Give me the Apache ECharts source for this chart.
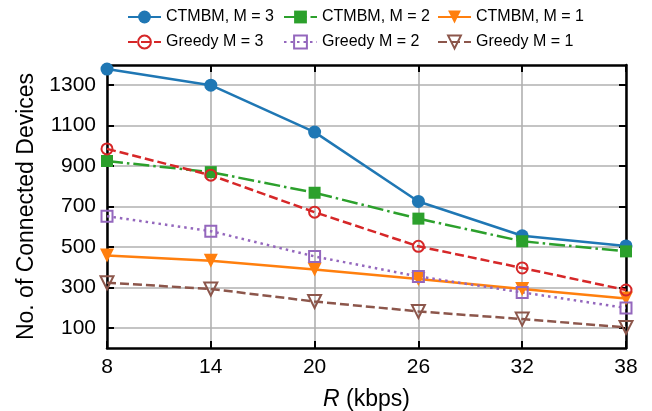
<!DOCTYPE html>
<html>
<head>
<meta charset="utf-8">
<script src="https://cdn.jsdelivr.net/npm/echarts@6/dist/echarts.min.js"></script>
<style>html,body{margin:0;padding:0;background:#fff}#c{width:652px;height:411px}</style>
</head>
<body>
<div id="c"></div>
<script>
const categories = ['8', '14', '20', '26', '32', '38'];
const yTicks = [100, 300, 500, 700, 900, 1100, 1300];
const ctmbm3 = [1380, 1300, 1068, 725, 555, 505];
const ctmbm2 = [925, 870, 768, 640, 528, 478];
const ctmbm1 = [458, 432, 388, 341, 292, 245];
const greedy3 = [985, 855, 672, 503, 396, 287];
const greedy2 = [652, 578, 453, 354, 275, 198];
const greedy1 = [323, 292, 230, 181, 143, 102];

const FONT = '"Liberation Sans", Arial, Helvetica, sans-serif';
const C = {blue:'#1f77b4', orange:'#ff7f0e', green:'#2ca02c', red:'#d62728', purple:'#9467bd', brown:'#8c564b'};
const LW = 2.5;
const dashed = [9, 4];
const dashdot = [16, 4, 2.5, 4];
const dotted = [2.5, 4];

function mkSeries(name, data, color, ltype, symbol, size, hollow, rot) {
  return {
    name, type: 'line', data, xAxisIndex: 0, yAxisIndex: 0,
    symbol, symbolSize: size, symbolRotate: rot || 0,
    showAllSymbol: true, clip: false,
    lineStyle: {color, width: LW, type: ltype},
    itemStyle: hollow ? {color: 'rgba(255,255,255,0)', borderColor: color, borderWidth: 2}
                      : {color, borderWidth: 0},
    emphasis: {disabled: true},
    z: 3
  };
}

const series = [
  mkSeries('CTMBM, M = 3', ctmbm3, C.blue, 'solid', 'circle', 13, false),
  mkSeries('CTMBM, M = 2', ctmbm2, C.green, dashdot, 'rect', 12, false),
  mkSeries('CTMBM, M = 1', ctmbm1, C.orange, 'solid', 'triangle', 14, false, 180),
  mkSeries('Greedy M = 3', greedy3, C.red, dashed, 'circle', 11, true),
  mkSeries('Greedy M = 2', greedy2, C.purple, dotted, 'rect', 11, true),
  mkSeries('Greedy M = 1', greedy1, C.brown, dashed, 'triangle', 13, true, 180)
];

const legendPos = [
  [127, 9], [283, 9], [437, 9],
  [127, 34], [283, 34], [437, 34]
];
const legends = series.map((s, i) => ({
  data: [s.name], left: legendPos[i][0], top: legendPos[i][1], padding: 0,
  itemWidth: 33, itemHeight: 16, selectedMode: false,
  textStyle: {fontFamily: FONT, fontSize: 16, color: '#000', lineHeight: 16}
}));

const frameLine = {show: true, onZero: false, lineStyle: {color: '#000', width: 2.5}};
const tickIn = {show: true, inside: true, length: 7, lineStyle: {color: '#000', width: 2}};
const grayGrid = {show: true, lineStyle: {color: '#b0b0b0', width: 1.6}};

const option = {
  animation: false,
  backgroundColor: '#fff',
  legend: legends,
  grid: {left: 107, right: 26, top: 65, bottom: 63, containLabel: false, outerBoundsMode: 'none'},
  xAxis: [
    {type: 'category', data: categories, boundaryGap: false, position: 'bottom',
     axisLine: frameLine, axisTick: Object.assign({interval: 0}, tickIn), splitLine: grayGrid,
     axisLabel: {interval: 0, margin: 9, fontFamily: FONT, fontSize: 21, color: '#000'},
     name: '{i|R} (kbps)', nameLocation: 'middle', nameGap: 40,
     nameTextStyle: {fontFamily: FONT, fontSize: 23, color: '#000',
       rich: {i: {fontFamily: FONT, fontSize: 23, fontStyle: 'italic', color: '#000'}}}},
    {type: 'category', data: categories, boundaryGap: false, position: 'top',
     axisLine: frameLine, axisTick: Object.assign({interval: 0}, tickIn), axisLabel: {show: false},
     splitLine: {show: false}}
  ],
  yAxis: [
    {type: 'value', min: 0, max: 1400, position: 'left',
     axisLine: frameLine, axisTick: Object.assign({customValues: yTicks}, tickIn),
     splitLine: grayGrid,
     axisLabel: {customValues: yTicks, margin: 11, fontFamily: FONT, fontSize: 21, color: '#000',
       formatter: v => String(v)},
     name: 'No. of Connected Devices', nameLocation: 'middle', nameGap: 66, nameRotate: 90,
     nameTextStyle: {fontFamily: FONT, fontSize: 23, color: '#000'}},
    {type: 'value', min: 0, max: 1400, position: 'right',
     axisLine: frameLine, axisTick: Object.assign({customValues: yTicks}, tickIn),
     axisLabel: {show: false}, splitLine: {show: false}}
  ],
  series
};

const chart = echarts.init(document.getElementById('c'), null, {renderer: 'canvas'});
chart.setOption(option);
</script>
</body>
</html>
